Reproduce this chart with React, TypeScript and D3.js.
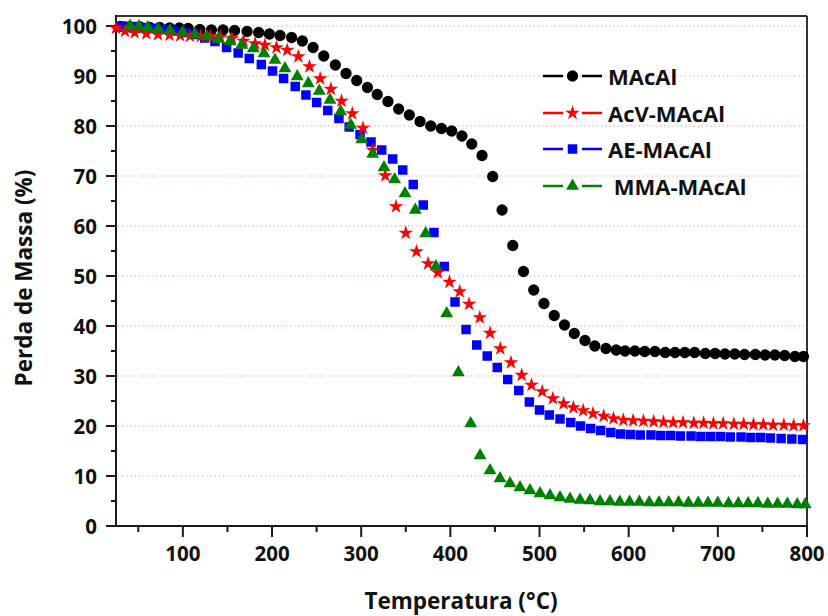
import React from "react";
import * as d3 from "d3";

const xMajorTicks = [100, 200, 300, 400, 500, 600, 700, 800];
const xMinorTicks = [50, 150, 250, 350, 450, 550, 650, 750];
const yMajorTicks = [0, 10, 20, 30, 40, 50, 60, 70, 80, 90, 100];
const yMinorTicks = [5, 15, 25, 35, 45, 55, 65, 75, 85, 95];
const gridValues = [10, 20, 30, 40, 50, 60, 70, 80, 90, 100];

const seriesNames = ["MAcAl", "AcV-MAcAl", "AE-MAcAl", " MMA-MAcAl"];
const seriesColors = ["#000000", "#ff0000", "#0000ff", "#008000"];

const macalTemp = [29.5, 41, 52, 63, 74, 85, 96, 106, 119, 132, 145, 158, 172, 185, 197, 209, 222, 234, 246, 258, 271, 283, 295, 307, 318, 330, 342, 354, 366, 378, 390, 401.5, 413, 424, 435.5, 447.5, 458, 470, 482, 493.5, 505, 516.5, 528, 539, 551, 562, 574.5, 586, 596, 607, 618, 629.5, 641, 652, 663, 674, 686, 697, 708, 719, 730, 742, 753, 764, 775, 786.5, 796];
const macalMass = [99.9, 99.8, 99.8, 99.7, 99.7, 99.6, 99.6, 99.5, 99.3, 99.2, 99.2, 99.1, 98.9, 98.7, 98.4, 98.1, 97.7, 97.0, 95.7, 94.0, 92.2, 90.5, 89.1, 87.7, 86.3, 84.9, 83.4, 82.2, 80.9, 80.0, 79.5, 79.0, 78.0, 76.4, 74.1, 69.9, 63.2, 56.1, 50.9, 47.2, 44.5, 42.1, 40.2, 38.5, 37.1, 36.0, 35.5, 35.2, 35.0, 35.0, 34.9, 34.9, 34.7, 34.7, 34.7, 34.7, 34.5, 34.5, 34.4, 34.4, 34.3, 34.3, 34.2, 34.2, 34.1, 33.9, 33.9];

const acvTemp = [25, 35, 46, 59, 72, 85, 97, 108, 120, 131, 142, 155, 168, 181, 192, 205, 217, 229.5, 242, 254, 266, 278, 290, 302, 313, 327, 339, 350, 362, 375, 386, 399, 410.5, 421, 433, 444.5, 456, 468, 480, 491, 503, 515, 527, 538, 549, 560, 572, 583, 594, 605, 616.5, 628, 639, 650, 661, 673, 684, 695, 706, 718, 729, 740, 751, 762, 774, 785, 796];
const acvMass = [99.6, 99.0, 98.7, 98.5, 98.3, 98.2, 98.1, 98.0, 97.95, 97.9, 97.8, 97.5, 97.0, 96.5, 96.2, 95.7, 95.2, 93.9, 91.9, 89.5, 87.4, 85.0, 82.5, 79.6, 75.2, 70.1, 63.9, 58.6, 54.9, 52.5, 50.7, 48.8, 46.9, 44.4, 41.7, 38.6, 35.5, 32.7, 30.2, 28.2, 26.9, 25.5, 24.5, 23.7, 23.1, 22.5, 22.0, 21.5, 21.2, 21.1, 21.0, 20.9, 20.8, 20.7, 20.7, 20.6, 20.6, 20.5, 20.5, 20.4, 20.4, 20.3, 20.3, 20.2, 20.2, 20.1, 20.1];

const aeTemp = [32.5, 44, 55.5, 67, 78.5, 90, 101.5, 113, 124.5, 136, 149, 162, 174.5, 188, 200.5, 213, 226, 238, 250, 262.5, 275, 286.5, 298.7, 311, 323, 335.3, 346.6, 358.4, 369.6, 381.6, 393.2, 405.2, 417.6, 429.6, 441.4, 452.6, 464.3, 476.7, 488.6, 500, 511, 523, 535, 546, 557.4, 568.6, 580, 591, 602, 613, 625, 636, 647, 658, 670, 681, 692, 703, 714, 726, 737, 748, 759, 771, 783, 795];
const aeMass = [100, 99.9, 99.7, 99.5, 99.3, 99.0, 98.7, 98.3, 97.6, 96.9, 95.7, 94.6, 93.5, 92.3, 91.0, 89.5, 87.9, 86.2, 84.7, 83.1, 81.5, 79.8, 78.3, 76.8, 75.2, 73.4, 71.2, 68.3, 64.2, 58.7, 51.9, 44.8, 39.3, 36.2, 34.0, 31.7, 29.3, 27.1, 24.8, 23.2, 22.2, 21.4, 20.7, 20.0, 19.5, 19.1, 18.7, 18.4, 18.3, 18.2, 18.2, 18.1, 18.1, 18.0, 18.0, 17.9, 17.9, 17.9, 17.8, 17.8, 17.7, 17.7, 17.6, 17.5, 17.4, 17.3];

const mmaTemp = [40.7, 50.8, 60.6, 72.4, 85.6, 99.8, 113.6, 126.7, 139.7, 152.9, 166, 179, 191, 203.3, 214.5, 228.3, 240.7, 253, 265, 277, 288.2, 300.6, 312.9, 325.6, 337.5, 349.1, 360.7, 372.3, 383.9, 395.9, 409, 422.8, 433.3, 444.5, 455.7, 466.9, 478.1, 489.3, 500.6, 511.8, 523, 534.2, 545.4, 556.6, 567.9, 579, 590, 601, 612, 623, 634, 645, 656, 667, 678, 689, 700, 712, 723, 734, 745, 756, 767, 778, 789, 798];
const mmaMass = [100, 99.9, 99.7, 99.4, 99.1, 98.7, 98.3, 97.9, 97.4, 96.9, 96.2, 95.5, 94.5, 93.2, 91.5, 89.9, 88.5, 87.0, 85.2, 82.9, 80.2, 77.3, 74.4, 71.7, 69.3, 66.5, 63.2, 58.5, 51.9, 42.5, 30.7, 20.5, 14.1, 11.1, 9.5, 8.5, 7.7, 7.1, 6.5, 6.1, 5.7, 5.4, 5.2, 5.1, 4.9, 4.9, 4.8, 4.8, 4.8, 4.7, 4.7, 4.7, 4.7, 4.6, 4.6, 4.6, 4.6, 4.5, 4.5, 4.5, 4.5, 4.4, 4.4, 4.4, 4.3, 4.3];

const FONT = "'Open Sans', 'DejaVu Sans', sans-serif";

export default function App() {
  const W = 828;
  const H = 616;
  const left = 116, right = 807, top = 16, bottom = 526;
  const x = d3.scaleLinear().domain([25, 800]).range([left, right]);
  const y = d3.scaleLinear().domain([0, 102]).range([bottom, top]);

  const symbols = [
    d3.symbol().type(d3.symbolCircle).size(100)(),
    d3.symbol().type(d3.symbolStar).size(66)(),
    d3.symbol().type(d3.symbolSquare).size(90)(),
    d3.symbol().type(d3.symbolTriangle).size(72)(),
  ];

  const series = [
    { t: macalTemp, m: macalMass, idx: 0 },
    { t: aeTemp, m: aeMass, idx: 2 },
    { t: acvTemp, m: acvMass, idx: 1 },
    { t: mmaTemp, m: mmaMass, idx: 3 },
  ];

  const legendRows = [76, 113, 149, 186];
  const axisColor = "#1a1a1a";

  return (
    <svg
      width={W}
      height={H}
      style={{ position: "absolute", left: 0, top: 0, background: "#ffffff" }}
      fontFamily={FONT}
    >
      <rect x={0} y={0} width={W} height={H} fill="#ffffff" />
      {gridValues.map((v) => (
        <line
          key={"g" + v}
          x1={left + 2}
          x2={right - 1}
          y1={y(v)}
          y2={y(v)}
          stroke="#dd8ea0"
          strokeWidth={1}
          strokeDasharray="1.2 3"
        />
      ))}
      <line x1={left} x2={right} y1={top} y2={top} stroke="#333" strokeWidth={2} />
      <line x1={right} x2={right} y1={top} y2={bottom} stroke="#333" strokeWidth={2} />
      <line x1={left} x2={left} y1={top - 1} y2={bottom + 1} stroke={axisColor} strokeWidth={2} />
      <line x1={left - 1} x2={right + 1} y1={bottom} y2={bottom} stroke={axisColor} strokeWidth={2} />
      {yMajorTicks.map((v) => (
        <g key={"ym" + v}>
          <line x1={left - 10} x2={left} y1={y(v)} y2={y(v)} stroke={axisColor} strokeWidth={2} />
          <text
            x={left - 19}
            y={y(v)}
            textAnchor="end"
            dominantBaseline="central"
            fontSize={20.5}
            fontWeight={700}
            fill="#111"
          >
            {v}
          </text>
        </g>
      ))}
      {yMinorTicks.map((v) => (
        <line key={"yn" + v} x1={left - 5} x2={left} y1={y(v)} y2={y(v)} stroke={axisColor} strokeWidth={2} />
      ))}
      {xMajorTicks.map((v) => (
        <g key={"xm" + v}>
          <line x1={x(v)} x2={x(v)} y1={bottom} y2={bottom + 11} stroke={axisColor} strokeWidth={2} />
          <text x={x(v)} y={561} textAnchor="middle" fontSize={20.5} fontWeight={700} fill="#111">
            {v}
          </text>
        </g>
      ))}
      {xMinorTicks.map((v) => (
        <line key={"xn" + v} x1={x(v)} x2={x(v)} y1={bottom} y2={bottom + 6} stroke={axisColor} strokeWidth={2} />
      ))}
      <text x={461} y={609} textAnchor="middle" fontSize={22.5} fontWeight={700} fill="#111">
        Temperatura (°C)
      </text>
      <text
        transform={`translate(32, 278) rotate(-90)`}
        textAnchor="middle"
        fontSize={22.5}
        fontWeight={700}
        fill="#111"
      >
        Perda de Massa (%)
      </text>
      {series.map((s) => (
        <g key={"s" + s.idx} fill={seriesColors[s.idx]}>
          {s.t.map((t, i) => (
            <path key={i} d={symbols[s.idx] as string} transform={`translate(${x(t)},${y(s.m[i])})`} />
          ))}
        </g>
      ))}
      {seriesNames.map((name, i) => (
        <g key={"l" + i}>
          <line x1={543} x2={563} y1={legendRows[i]} y2={legendRows[i]} stroke={seriesColors[i]} strokeWidth={2.5} />
          <line x1={582} x2={602} y1={legendRows[i]} y2={legendRows[i]} stroke={seriesColors[i]} strokeWidth={2.5} />
          <path d={symbols[i] as string} transform={`translate(572.5,${legendRows[i]})`} fill={seriesColors[i]} />
          <text
            x={608}
            y={legendRows[i]}
            dominantBaseline="central"
            fontSize={22}
            fontWeight={700}
            fill="#111"
            style={{ whiteSpace: "pre" }}
          >
            {name}
          </text>
        </g>
      ))}
    </svg>
  );
}
